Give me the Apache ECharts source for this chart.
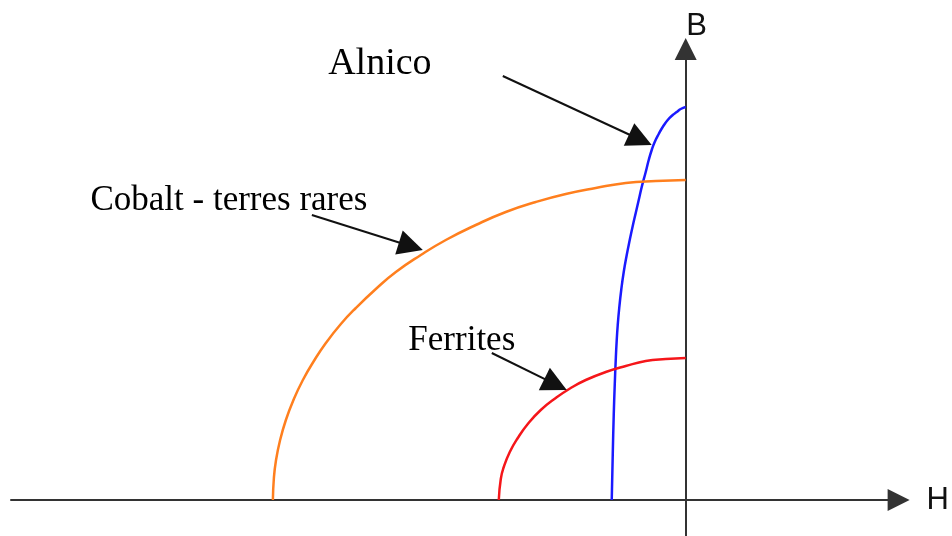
<!DOCTYPE html>
<html>
<head>
<meta charset="utf-8">
<title>Courbes de désaimantation</title>
<script src="https://cdn.jsdelivr.net/npm/echarts@6/dist/echarts.min.js"></script>
<style>
  html, body { margin: 0; padding: 0; background: #fff; }
  #chart { width: 952px; height: 536px; }
</style>
</head>
<body>
<div id="chart"></div>
<script>
// Second-quadrant demagnetization curves (H < 0, B > 0), schematic units.
// Each curve is a list of [H, B] points.
const alnico = [
  [0, 393], [-5, 391], [-9, 388], [-13, 385], [-18, 380], [-23, 373],
  [-27, 366], [-31, 358], [-34, 350], [-37, 340], [-40, 328], [-44, 313],
  [-47, 300], [-50, 287], [-53, 274], [-56, 260], [-59, 245], [-62, 228],
  [-64.5, 210], [-66.5, 192], [-68, 175], [-69, 160], [-70, 140],
  [-71, 115], [-72, 85], [-73, 45], [-74, 0]
];
const cobaltTerresRares = [
  [0, 320], [-30, 319], [-60, 317], [-90, 312], [-120, 306], [-150, 298],
  [-180, 288], [-210, 275], [-240, 260], [-265, 245], [-290, 228],
  [-310, 211], [-330, 192], [-345, 176], [-360, 157], [-372, 139],
  [-383, 120], [-392, 101], [-400, 80], [-406, 59], [-410, 39],
  [-412, 22], [-413, 0]
];
const ferrites = [
  [0, 142], [-20, 141], [-40, 139], [-60, 134], [-80, 128], [-100, 120],
  [-115, 112], [-130, 102], [-145, 90], [-158, 76], [-168, 62],
  [-176, 48], [-182, 33], [-185, 21], [-187, 0]
];

// Curve names and where each name is written
const curveNames = ['Alnico', 'Cobalt - terres rares', 'Ferrites'];
const nameAnchors = [[-306, 436], [-457, 299], [-224, 159]];
const nameSizes = [38, 35, 35];

// Pointer arrows from each name to its curve: [start, tip]
const pointers = [
  [[-183, 424], [-34, 355]],
  [[-374, 285], [-263, 250]],
  [[-194, 147], [-119, 110]]
];
const pointerHeadLength = 25;

// Axis extents
const hRange = [-675, 213];
const bRange = [-36, 451];

const chart = echarts.init(document.getElementById('chart'), null, { renderer: 'canvas' });

const curveSeries = (name, data, color) => ({
  name,
  type: 'line',
  data,
  smooth: 0.5,
  showSymbol: false,
  lineStyle: { color, width: 2.5 },
  z: 3
});

// The arrowhead symbol is centred on the segment end, so pull the end back
// by half a head length to leave the tip on the curve (1 unit = 1 px here).
function pointerSegment([start, tip]) {
  const dx = tip[0] - start[0];
  const dy = tip[1] - start[1];
  const len = Math.hypot(dx, dy);
  const k = (pointerHeadLength / 2) / len;
  return { coords: [start, [tip[0] - dx * k, tip[1] - dy * k]] };
}

const axisCommon = {
  type: 'value',
  nameLocation: 'end',
  axisTick: { show: false },
  axisLabel: { show: false },
  splitLine: { show: false }
};
const axisLineStyle = {
  onZero: true,
  symbol: ['none', 'triangle'],
  symbolSize: [22, 22],
  lineStyle: { color: '#333', width: 2 }
};

chart.setOption({
  animation: false,
  backgroundColor: '#ffffff',
  grid: { left: 11, right: 53, top: 49, bottom: 0 },
  xAxis: Object.assign({}, axisCommon, {
    min: hRange[0],
    max: hRange[1],
    name: 'H',
    nameGap: 28,
    nameTextStyle: {
      fontFamily: 'Liberation Sans', fontSize: 31, color: '#111',
      padding: [22, 0, 0, 0]
    },
    axisLine: axisLineStyle
  }),
  yAxis: Object.assign({}, axisCommon, {
    min: bRange[0],
    max: bRange[1],
    name: 'B',
    nameGap: 7,
    nameTextStyle: {
      fontFamily: 'Liberation Sans', fontSize: 31, color: '#111',
      padding: [0, 0, 0, 22]
    },
    axisLine: axisLineStyle
  }),
  series: [
    curveSeries('Alnico', alnico, '#1a1aff'),
    curveSeries('Cobalt - terres rares', cobaltTerresRares, '#ff7f1e'),
    curveSeries('Ferrites', ferrites, '#f5161a'),
    {
      name: 'pointers',
      type: 'lines',
      coordinateSystem: 'cartesian2d',
      symbol: ['none', 'triangle'],
      symbolSize: [20, pointerHeadLength],
      lineStyle: { color: '#111', width: 2, opacity: 1 },
      data: pointers.map(pointerSegment),
      z: 4
    },
    {
      name: 'names',
      type: 'scatter',
      symbolSize: 0,
      itemStyle: { opacity: 1 },
      data: curveNames.map((n, i) => ({
        value: nameAnchors[i],
        name: n,
        label: { fontSize: nameSizes[i] }
      })),
      label: {
        show: true,
        position: 'inside',
        formatter: p => p.name,
        fontFamily: 'Liberation Serif',
        color: '#000',
        textBorderWidth: 0
      },
      z: 5
    }
  ]
});
</script>
</body>
</html>
